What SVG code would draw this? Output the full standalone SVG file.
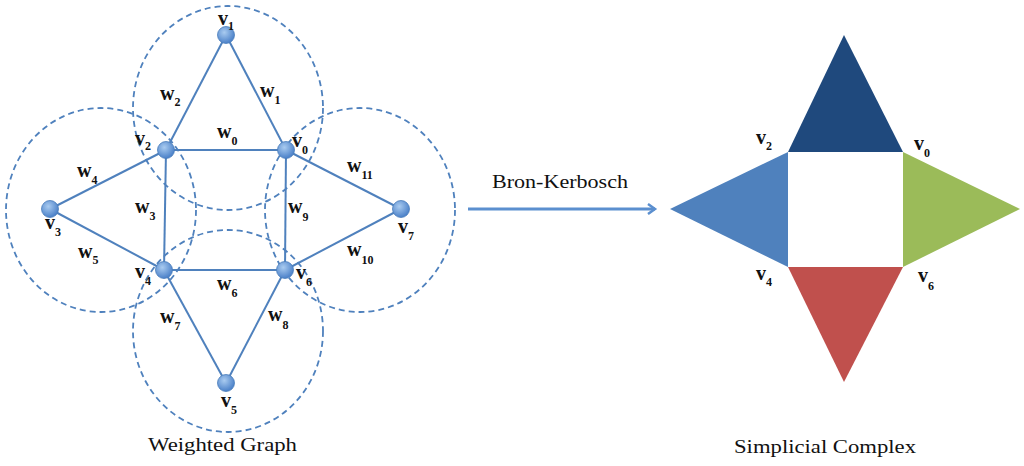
<svg xmlns="http://www.w3.org/2000/svg" width="1024" height="466" viewBox="0 0 1024 466">
<style>
.edge{stroke:#4F81BD;stroke-width:2;fill:none}
.ring{stroke:#4F81BD;stroke-width:1.8;fill:none;stroke-dasharray:6 4}
.node{fill:url(#ng);stroke:#4A7EBB;stroke-width:0.8}
.lb{font-family:"Liberation Serif","DejaVu Serif",serif;font-size:20px;font-weight:bold;fill:#111}
.sub{font-size:12px}
.title{font-family:"Liberation Serif","DejaVu Serif",serif;font-size:19px;fill:#111}
</style>
<defs>
<radialGradient id="ng" cx="40%" cy="35%" r="65%">
<stop offset="0" stop-color="#A9CBF0"/>
<stop offset="1" stop-color="#4A80C8"/>
</radialGradient>
<marker id="ah" markerWidth="12" markerHeight="12" refX="9" refY="6" orient="auto" markerUnits="userSpaceOnUse">
<path d="M2,1 L9,6 L2,11" fill="none" stroke="#5B8FCF" stroke-width="2.5"/>
</marker>
</defs>
<rect width="1024" height="466" fill="#fff"/>

<g id="rings">
<ellipse class="ring" cx="228" cy="108" rx="95" ry="102"/>
<ellipse class="ring" cx="228" cy="331" rx="95" ry="101"/>
<ellipse class="ring" cx="101" cy="210" rx="95" ry="102"/>
<ellipse class="ring" cx="360" cy="210" rx="95" ry="102"/>
</g>

<g id="connectors">
<line class="edge" x1="226" y1="35" x2="166" y2="150"/>
<line class="edge" x1="226" y1="35" x2="286" y2="150"/>
<line class="edge" x1="166" y1="150" x2="286" y2="150"/>
<line class="edge" x1="166" y1="150" x2="164" y2="270"/>
<line class="edge" x1="286" y1="150" x2="285" y2="270"/>
<line class="edge" x1="164" y1="270" x2="285" y2="270"/>
<line class="edge" x1="166" y1="150" x2="50" y2="209"/>
<line class="edge" x1="50" y1="209" x2="164" y2="270"/>
<line class="edge" x1="286" y1="150" x2="401" y2="209"/>
<line class="edge" x1="401" y1="209" x2="285" y2="270"/>
<line class="edge" x1="164" y1="270" x2="226" y2="383"/>
<line class="edge" x1="285" y1="270" x2="226" y2="383"/>
<line x1="468" y1="209" x2="655" y2="209" stroke="#5B8FCF" stroke-width="3" marker-end="url(#ah)"/>
</g>

<g id="edge-labels">
<text class="lb" x="160" y="100">w<tspan class="sub" dy="6">2</tspan></text>
<text class="lb" x="260" y="97">w<tspan class="sub" dy="7">1</tspan></text>
<text class="lb" x="217" y="138">w<tspan class="sub" dy="7">0</tspan></text>
<text class="lb" x="77" y="177">w<tspan class="sub" dy="7">4</tspan></text>
<text class="lb" x="347" y="172">w<tspan class="sub" dy="7">11</tspan></text>
<text class="lb" x="135" y="213">w<tspan class="sub" dy="7">3</tspan></text>
<text class="lb" x="288" y="213">w<tspan class="sub" dy="8">9</tspan></text>
<text class="lb" x="78" y="258">w<tspan class="sub" dy="6">5</tspan></text>
<text class="lb" x="347" y="256">w<tspan class="sub" dy="8">10</tspan></text>
<text class="lb" x="217" y="290">w<tspan class="sub" dy="7">6</tspan></text>
<text class="lb" x="160" y="323">w<tspan class="sub" dy="7">7</tspan></text>
<text class="lb" x="268" y="321">w<tspan class="sub" dy="8">8</tspan></text>
<text class="title" x="492" y="188" textLength="136" lengthAdjust="spacingAndGlyphs">Bron-Kerbosch</text>
</g>

<g id="v1"><circle class="node" cx="226" cy="35" r="8.5"/><text class="lb" x="218" y="25">v<tspan class="sub" dy="5">1</tspan></text></g>
<g id="v2"><circle class="node" cx="166" cy="150" r="8.5"/><text class="lb" x="135" y="145">v<tspan class="sub" dy="5">2</tspan></text></g>
<g id="v0"><circle class="node" cx="286" cy="150" r="8.5"/><text class="lb" x="292" y="147">v<tspan class="sub" dy="7">0</tspan></text></g>
<g id="v3"><circle class="node" cx="50" cy="209" r="8.5"/><text class="lb" x="45" y="229">v<tspan class="sub" dy="7">3</tspan></text></g>
<g id="v7"><circle class="node" cx="401" cy="209" r="8.5"/><text class="lb" x="398" y="233">v<tspan class="sub" dy="7">7</tspan></text></g>
<g id="v4"><circle class="node" cx="164" cy="270" r="8.5"/><text class="lb" x="135" y="278">v<tspan class="sub" dy="7">4</tspan></text></g>
<g id="v6"><circle class="node" cx="285" cy="270" r="8.5"/><text class="lb" x="296" y="279">v<tspan class="sub" dy="7">6</tspan></text></g>
<g id="v5"><circle class="node" cx="226" cy="383" r="8.5"/><text class="lb" x="221" y="407">v<tspan class="sub" dy="7">5</tspan></text></g>

<text class="title" x="148" y="451" textLength="149" lengthAdjust="spacingAndGlyphs">Weighted Graph</text>

<g id="complex">
<polygon points="844,35 788,152 903,152" fill="#1F497D"/>
<polygon points="670,209 788,152 788,267" fill="#4F81BD"/>
<polygon points="1020,209 903,152 903,267" fill="#9BBB59"/>
<polygon points="844,382 788,267 903,267" fill="#C0504D"/>
<text class="lb" x="756" y="144">v<tspan class="sub" dy="6">2</tspan></text>
<text class="lb" x="914" y="150">v<tspan class="sub" dy="7">0</tspan></text>
<text class="lb" x="756" y="280">v<tspan class="sub" dy="6">4</tspan></text>
<text class="lb" x="918" y="282">v<tspan class="sub" dy="8">6</tspan></text>
</g>

<text class="title" x="734" y="453" textLength="182" lengthAdjust="spacingAndGlyphs">Simplicial Complex</text>
</svg>
